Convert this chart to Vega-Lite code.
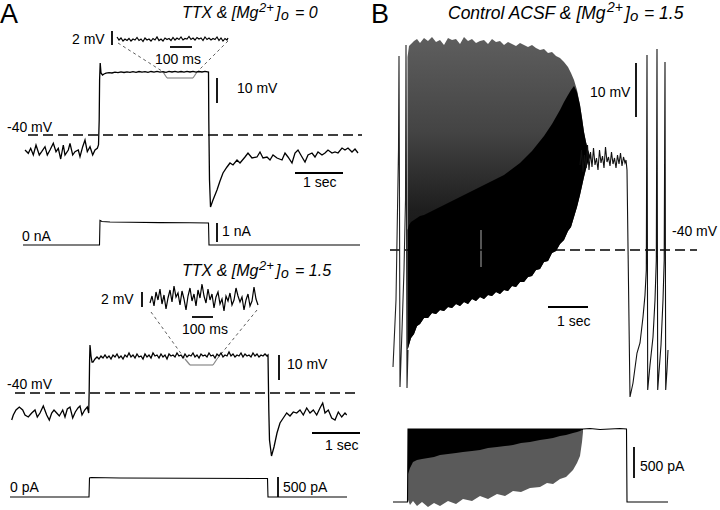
{
"$schema":"https://vega.github.io/schema/vega-lite/v6.json",
"width":720,"height":510,"padding":0,
"autosize":{"type":"fit","contains":"padding"},
"background":"white",
"config":{"view":{"stroke":null}},
"datasets":{
"a1v":[{"x":25,"y":150},{"x":28.3,"y":153.3},{"x":30.7,"y":148.3},{"x":33.3,"y":155},{"x":36,"y":145},{"x":39.3,"y":155},{"x":41.7,"y":151.7},{"x":45,"y":146.7},{"x":47.3,"y":155},{"x":50,"y":150},{"x":53.3,"y":143.3},{"x":56,"y":151.7},{"x":58.3,"y":148.3},{"x":60.7,"y":159},{"x":63.3,"y":145},{"x":65,"y":155},{"x":68.3,"y":150},{"x":70,"y":143.3},{"x":72.7,"y":155},{"x":75,"y":151.7},{"x":78.3,"y":150},{"x":80,"y":156.7},{"x":82.7,"y":146.7},{"x":85,"y":140},{"x":87.3,"y":151.7},{"x":90,"y":146.7},{"x":92.7,"y":155},{"x":95,"y":150},{"x":97.3,"y":148.3},{"x":98.5,"y":145},{"x":99.2,"y":120},{"x":99.6,"y":80},{"x":100.2,"y":63},{"x":101,"y":73},{"x":102.5,"y":75},{"x":104,"y":74},{"x":106,"y":73.2},{"x":109,"y":72.6},{"x":112,"y":73},{"x":115,"y":72.2},{"x":118,"y":72.7},{"x":121,"y":71.9},{"x":124,"y":72.5},{"x":127,"y":71.8},{"x":130,"y":72.4},{"x":133,"y":71.7},{"x":136,"y":72.3},{"x":139,"y":71.5},{"x":142,"y":72.2},{"x":145,"y":71.6},{"x":148,"y":72.4},{"x":151,"y":71.5},{"x":154,"y":72.1},{"x":157,"y":71.4},{"x":160,"y":72.2},{"x":163,"y":71.6},{"x":166,"y":72.3},{"x":169,"y":71.4},{"x":172,"y":72},{"x":175,"y":71.3},{"x":178,"y":72.1},{"x":181,"y":71.5},{"x":184,"y":72.2},{"x":187,"y":71.4},{"x":190,"y":72},{"x":193,"y":71.3},{"x":196,"y":72.1},{"x":199,"y":71.5},{"x":202,"y":72},{"x":205,"y":71.4},{"x":208.5,"y":72},{"x":208.8,"y":120},{"x":209.5,"y":180},{"x":210.5,"y":207},{"x":213,"y":200},{"x":217,"y":190},{"x":220,"y":181},{"x":223,"y":173},{"x":227,"y":167},{"x":230,"y":163},{"x":233,"y":165},{"x":237,"y":160},{"x":240,"y":163},{"x":245,"y":157},{"x":248,"y":153},{"x":252,"y":158},{"x":257,"y":157},{"x":260,"y":152},{"x":263,"y":158},{"x":267,"y":157},{"x":270,"y":160},{"x":273,"y":155},{"x":277,"y":158},{"x":282,"y":160},{"x":285,"y":153},{"x":288,"y":157},{"x":292,"y":163},{"x":295,"y":153},{"x":298,"y":150},{"x":302,"y":157},{"x":305,"y":162},{"x":308,"y":155},{"x":312,"y":153},{"x":315,"y":157},{"x":318,"y":152},{"x":322,"y":155},{"x":325,"y":153},{"x":328,"y":150},{"x":332,"y":153},{"x":335,"y":152},{"x":338,"y":153},{"x":342,"y":148},{"x":345,"y":150},{"x":348,"y":148},{"x":352,"y":152},{"x":355,"y":149},{"x":358,"y":153}],
"a1in":[{"x":117,"y":37},{"x":119,"y":40},{"x":121,"y":38},{"x":123,"y":41},{"x":125,"y":39},{"x":127,"y":40.5},{"x":129,"y":38.5},{"x":131,"y":41},{"x":133,"y":39},{"x":135,"y":40},{"x":137,"y":37.5},{"x":139,"y":40.5},{"x":141,"y":39},{"x":143,"y":41.5},{"x":145,"y":38},{"x":147,"y":40},{"x":149,"y":39},{"x":151,"y":41},{"x":153,"y":38.5},{"x":155,"y":40},{"x":157,"y":37},{"x":159,"y":40.5},{"x":161,"y":39},{"x":163,"y":41},{"x":165,"y":38},{"x":167,"y":39.5},{"x":169,"y":38.5},{"x":171,"y":40.5},{"x":173,"y":37.5},{"x":175,"y":40},{"x":177,"y":38},{"x":179,"y":39.5},{"x":181,"y":37},{"x":183,"y":40},{"x":185,"y":38.5},{"x":187,"y":39},{"x":189,"y":36.5},{"x":191,"y":39.5},{"x":193,"y":38},{"x":195,"y":40},{"x":197,"y":37.5},{"x":199,"y":39},{"x":201,"y":38},{"x":203,"y":40.5},{"x":205,"y":37},{"x":207,"y":39.5},{"x":209,"y":38},{"x":211,"y":40},{"x":213,"y":38.5},{"x":215,"y":39.5},{"x":217,"y":37},{"x":219,"y":40.5},{"x":221,"y":38},{"x":223,"y":41},{"x":225,"y":38.5},{"x":227,"y":40},{"x":228,"y":38}],
"a1i":[{"x":23,"y":245},{"x":99.5,"y":245},{"x":100,"y":220.5},{"x":102,"y":221.5},{"x":110,"y":222},{"x":130,"y":222.3},{"x":160,"y":222.6},{"x":190,"y":222.8},{"x":208.5,"y":223},{"x":209,"y":245},{"x":360,"y":245}],
"a2v":[{"x":11.7,"y":420},{"x":13.3,"y":415},{"x":16,"y":410},{"x":19.3,"y":407},{"x":22.7,"y":410},{"x":25,"y":415},{"x":28.3,"y":417},{"x":31.7,"y":413},{"x":35,"y":410},{"x":37.3,"y":417},{"x":40,"y":413},{"x":43.3,"y":406},{"x":46.7,"y":415},{"x":49.3,"y":420},{"x":51.7,"y":413},{"x":54,"y":410},{"x":56.7,"y":413},{"x":59.3,"y":416},{"x":62.7,"y":410},{"x":65,"y":417},{"x":67.3,"y":409},{"x":70,"y":407},{"x":72.7,"y":418},{"x":75.3,"y":412},{"x":78,"y":408},{"x":80,"y":406},{"x":82,"y":415},{"x":84.7,"y":410},{"x":87.3,"y":407},{"x":88.7,"y":413},{"x":89.2,"y":390},{"x":89.6,"y":360},{"x":90,"y":345},{"x":91,"y":356},{"x":92,"y":362},{"x":93,"y":362},{"x":95,"y":359},{"x":97,"y":357},{"x":99,"y":359},{"x":101,"y":356},{"x":103,"y":358},{"x":105,"y":355},{"x":107,"y":358},{"x":109,"y":356},{"x":111,"y":359},{"x":113,"y":355},{"x":115,"y":357},{"x":117,"y":354},{"x":119,"y":358},{"x":121,"y":356},{"x":123,"y":359},{"x":125,"y":355},{"x":127,"y":357},{"x":129,"y":353},{"x":131,"y":357},{"x":133,"y":355},{"x":135,"y":358},{"x":137,"y":354},{"x":139,"y":357},{"x":141,"y":356},{"x":143,"y":359},{"x":145,"y":354},{"x":147,"y":357},{"x":149,"y":355},{"x":151,"y":358},{"x":153,"y":353},{"x":155,"y":356},{"x":157,"y":355},{"x":159,"y":358},{"x":161,"y":354},{"x":163,"y":357},{"x":165,"y":355},{"x":167,"y":359},{"x":169,"y":354},{"x":171,"y":356},{"x":173,"y":355},{"x":175,"y":357},{"x":177,"y":353},{"x":179,"y":356},{"x":181,"y":355},{"x":183,"y":358},{"x":185,"y":354},{"x":187,"y":357},{"x":189,"y":355},{"x":191,"y":356},{"x":193,"y":353},{"x":195,"y":357},{"x":197,"y":355},{"x":199,"y":358},{"x":201,"y":354},{"x":203,"y":356},{"x":205,"y":355},{"x":207,"y":357},{"x":209,"y":353},{"x":211,"y":356},{"x":213,"y":355},{"x":215,"y":358},{"x":217,"y":354},{"x":219,"y":356},{"x":221,"y":353},{"x":223,"y":357},{"x":225,"y":355},{"x":227,"y":356},{"x":229,"y":352},{"x":231,"y":356},{"x":233,"y":354},{"x":235,"y":357},{"x":237,"y":355},{"x":239,"y":356},{"x":241,"y":353},{"x":243,"y":357},{"x":245,"y":354},{"x":247,"y":356},{"x":249,"y":355},{"x":251,"y":357},{"x":253,"y":353},{"x":255,"y":356},{"x":257,"y":354},{"x":259,"y":357},{"x":261,"y":355},{"x":263,"y":356},{"x":265,"y":354},{"x":267,"y":356},{"x":268,"y":355},{"x":268.8,"y":410},{"x":269.5,"y":440},{"x":271.5,"y":456},{"x":274,"y":447},{"x":277,"y":433},{"x":280,"y":423},{"x":283.3,"y":418},{"x":286.7,"y":413},{"x":290,"y":416},{"x":293.3,"y":412},{"x":296.7,"y":413},{"x":300,"y":410},{"x":303.3,"y":415},{"x":306.7,"y":408},{"x":310,"y":413},{"x":313.3,"y":410},{"x":316.7,"y":415},{"x":320,"y":408},{"x":322.7,"y":403},{"x":325,"y":413},{"x":328.3,"y":410},{"x":331.7,"y":418},{"x":335,"y":420},{"x":338.3,"y":412},{"x":341.7,"y":417},{"x":345,"y":413},{"x":346.7,"y":415}],
"a2in":[{"x":150,"y":303},{"x":152,"y":296},{"x":154,"y":306},{"x":156,"y":292},{"x":158,"y":300},{"x":160,"y":289},{"x":162,"y":304},{"x":164,"y":295},{"x":166,"y":309},{"x":168,"y":298},{"x":170,"y":290},{"x":172,"y":302},{"x":174,"y":286},{"x":176,"y":297},{"x":178,"y":293},{"x":180,"y":305},{"x":182,"y":291},{"x":184,"y":299},{"x":186,"y":310},{"x":188,"y":296},{"x":190,"y":288},{"x":192,"y":301},{"x":194,"y":294},{"x":196,"y":306},{"x":198,"y":290},{"x":200,"y":298},{"x":202,"y":284},{"x":204,"y":296},{"x":206,"y":303},{"x":208,"y":289},{"x":210,"y":300},{"x":212,"y":294},{"x":214,"y":308},{"x":216,"y":297},{"x":218,"y":292},{"x":220,"y":304},{"x":222,"y":299},{"x":224,"y":311},{"x":226,"y":296},{"x":228,"y":301},{"x":230,"y":293},{"x":232,"y":305},{"x":234,"y":300},{"x":236,"y":288},{"x":238,"y":296},{"x":240,"y":302},{"x":242,"y":297},{"x":244,"y":310},{"x":246,"y":300},{"x":248,"y":294},{"x":250,"y":306},{"x":252,"y":301},{"x":254,"y":287},{"x":256,"y":299},{"x":258,"y":305}],
"a2i":[{"x":10,"y":497},{"x":89,"y":497},{"x":89.5,"y":478},{"x":91,"y":477.5},{"x":120,"y":478},{"x":267.5,"y":478.5},{"x":268,"y":497},{"x":347,"y":497}],
"bv":[{"x":393,"y":367},{"x":396,"y":300},{"x":398.5,"y":150},{"x":399,"y":56},{"x":399.5,"y":200},{"x":400,"y":387},{"x":402,"y":330},{"x":404,"y":270},{"x":405.5,"y":200},{"x":406,"y":45},{"x":406.5,"y":200},{"x":407,"y":388},{"x":408,"y":350}],
"bp":[{"x":580,"y":165},{"x":581.5,"y":150},{"x":583,"y":172},{"x":584.5,"y":155},{"x":586,"y":168},{"x":587.5,"y":145},{"x":589,"y":170},{"x":590.5,"y":152},{"x":592,"y":167},{"x":593.5,"y":148},{"x":595,"y":165},{"x":596.5,"y":158},{"x":598,"y":170},{"x":599.5,"y":150},{"x":601,"y":163},{"x":602.5,"y":156},{"x":604,"y":168},{"x":605.5,"y":147},{"x":607,"y":162},{"x":608.5,"y":157},{"x":610,"y":166},{"x":611.5,"y":152},{"x":613,"y":164},{"x":614.5,"y":158},{"x":616,"y":168},{"x":617.5,"y":155},{"x":619,"y":164},{"x":620.5,"y":153},{"x":622,"y":166},{"x":623.5,"y":157},{"x":625,"y":163},{"x":626,"y":160},{"x":626.5,"y":165},{"x":627,"y":170},{"x":630,"y":397},{"x":633,"y":383},{"x":637,"y":353},{"x":640,"y":343},{"x":643,"y":317},{"x":645,"y":295},{"x":646.3,"y":270},{"x":647,"y":55},{"x":647.7,"y":390},{"x":650,"y":365},{"x":653,"y":337},{"x":655,"y":300},{"x":656.3,"y":260},{"x":657,"y":49},{"x":657.7,"y":390},{"x":659,"y":372},{"x":661,"y":345},{"x":663,"y":300},{"x":664.2,"y":260},{"x":665,"y":62},{"x":665.7,"y":390},{"x":667,"y":370},{"x":668,"y":350}],
"bdense":[{"x":407.5,"top":57,"bot":350,"blk":230},{"x":409,"top":46,"bot":345,"blk":225},{"x":411,"top":44,"bot":338,"blk":222},{"x":414,"top":41,"bot":334,"blk":220},{"x":417,"top":39,"bot":326,"blk":218},{"x":420,"top":43,"bot":324,"blk":216},{"x":424,"top":38,"bot":318,"blk":215},{"x":428,"top":41,"bot":318,"blk":213},{"x":432,"top":37,"bot":313,"blk":211},{"x":436,"top":42,"bot":314,"blk":209},{"x":440,"top":40,"bot":310,"blk":207},{"x":444,"top":45,"bot":311,"blk":205},{"x":448,"top":38,"bot":307,"blk":203},{"x":452,"top":40,"bot":308,"blk":201},{"x":456,"top":39,"bot":304,"blk":199},{"x":460,"top":44,"bot":306,"blk":197},{"x":464,"top":37,"bot":302,"blk":195},{"x":468,"top":41,"bot":304,"blk":193},{"x":472,"top":39,"bot":299,"blk":191},{"x":476,"top":43,"bot":301,"blk":189},{"x":480,"top":41,"bot":297,"blk":187},{"x":484,"top":40,"bot":299,"blk":185},{"x":488,"top":44,"bot":295,"blk":183},{"x":492,"top":39,"bot":296,"blk":181},{"x":496,"top":42,"bot":292,"blk":179},{"x":500,"top":41,"bot":294,"blk":177},{"x":504,"top":45,"bot":290,"blk":175},{"x":508,"top":42,"bot":291,"blk":172},{"x":512,"top":44,"bot":286,"blk":169},{"x":516,"top":46,"bot":287,"blk":166},{"x":520,"top":43,"bot":282,"blk":163},{"x":524,"top":45,"bot":282,"blk":159},{"x":528,"top":47,"bot":277,"blk":155},{"x":532,"top":45,"bot":276,"blk":151},{"x":536,"top":48,"bot":270,"blk":146},{"x":540,"top":50,"bot":269,"blk":141},{"x":544,"top":49,"bot":262,"blk":136},{"x":548,"top":53,"bot":261,"blk":130},{"x":552,"top":52,"bot":253,"blk":124},{"x":556,"top":56,"bot":251,"blk":117},{"x":560,"top":58,"bot":244,"blk":110},{"x":564,"top":62,"bot":240,"blk":102},{"x":568,"top":67,"bot":231,"blk":95},{"x":571,"top":73,"bot":227,"blk":90},{"x":574,"top":80,"bot":217,"blk":86},{"x":577,"top":90,"bot":207,"blk":92},{"x":580,"top":105,"bot":195,"blk":105},{"x":582,"top":118,"bot":186,"blk":118},{"x":584,"top":132,"bot":177,"blk":132},{"x":586,"top":142,"bot":169,"blk":142},{"x":588,"top":150,"bot":162,"blk":150},{"x":590,"top":156,"bot":157,"blk":156}],
"bi":[{"x":393,"y":502},{"x":407.5,"y":502},{"x":408,"y":429},{"x":583,"y":429},{"x":590,"y":428.5},{"x":600,"y":429.5},{"x":610,"y":429},{"x":620,"y":428.5},{"x":626.5,"y":429},{"x":627,"y":502},{"x":668,"y":502}],
"bidense":[{"x":408,"top":429,"bot":500,"blk":474},{"x":410,"top":429,"bot":505,"blk":468},{"x":413,"top":429,"bot":501,"blk":462},{"x":417,"top":429,"bot":506,"blk":460},{"x":422,"top":429,"bot":502,"blk":459},{"x":428,"top":429,"bot":507,"blk":458},{"x":434,"top":429,"bot":503,"blk":457},{"x":440,"top":429,"bot":506,"blk":455},{"x":448,"top":429,"bot":501,"blk":454},{"x":456,"top":429,"bot":504,"blk":453},{"x":463,"top":429,"bot":499,"blk":452},{"x":472,"top":429,"bot":501,"blk":451},{"x":480,"top":429,"bot":496,"blk":450},{"x":488,"top":429,"bot":499,"blk":448},{"x":497,"top":429,"bot":494,"blk":447},{"x":505,"top":429,"bot":496,"blk":446},{"x":513,"top":429,"bot":491,"blk":445},{"x":521,"top":429,"bot":492,"blk":443},{"x":530,"top":429,"bot":488,"blk":442},{"x":540,"top":429,"bot":487,"blk":440},{"x":547,"top":429,"bot":483,"blk":439},{"x":553,"top":429,"bot":484,"blk":438},{"x":560,"top":429,"bot":479,"blk":436},{"x":566,"top":429,"bot":477,"blk":435},{"x":573,"top":429,"bot":470,"blk":433},{"x":577,"top":429,"bot":463,"blk":432},{"x":580,"top":429,"bot":456,"blk":431},{"x":582,"top":429,"bot":442,"blk":430},{"x":583,"top":429,"bot":432,"blk":430}],
"segs":[
{"k":"bar","x":112,"y":31,"x2":112,"y2":45},{"k":"bar","x":170,"y":47,"x2":192,"y2":47},{"k":"bar","x":217,"y":78,"x2":217,"y2":103},{"k":"bar","x":295,"y":173,"x2":343,"y2":173},{"k":"bar","x":217,"y":223,"x2":217,"y2":242},
{"k":"bar","x":142,"y":292,"x2":142,"y2":307},{"k":"bar","x":192,"y":317,"x2":213,"y2":317},{"k":"bar","x":279,"y":355,"x2":279,"y2":380},{"k":"bar","x":312,"y":433,"x2":360,"y2":433},{"k":"bar","x":278,"y":477,"x2":278,"y2":497},
{"k":"bar","x":636,"y":63,"x2":636,"y2":117},{"k":"bar","x":548,"y":307,"x2":588,"y2":307},{"k":"bar","x":634,"y":447,"x2":634,"y2":478},
{"k":"d40","x":28,"y":135,"x2":362,"y2":135},{"k":"d40","x":15,"y":393,"x2":360,"y2":393},{"k":"d40","x":390,"y":250,"x2":697,"y2":250},
{"k":"conn","x":118,"y":43,"x2":165,"y2":73},{"k":"conn","x":228,"y":41,"x2":196,"y2":73},{"k":"conn","x":151,"y":312,"x2":185,"y2":359},{"k":"conn","x":257,"y":310,"x2":217,"y2":359},
{"k":"trap","x":163,"y":72,"x2":167,"y2":78},{"k":"trap","x":167,"y":78,"x2":193,"y2":78},{"k":"trap","x":193,"y":78,"x2":197,"y2":72},
{"k":"trap","x":185,"y":359,"x2":190,"y2":365},{"k":"trap","x":190,"y":365,"x2":213,"y2":365},{"k":"trap","x":213,"y":365,"x2":217,"y2":359},
{"k":"gray","x":481,"y":230,"x2":481,"y2":267}
],
"labels":[
{"x":72,"y":40,"t":"2 mV"},{"x":155,"y":60,"t":"100 ms"},{"x":237,"y":89,"t":"10 mV"},{"x":7,"y":128,"t":"-40 mV"},{"x":303,"y":183,"t":"1 sec"},{"x":22,"y":237,"t":"0 nA"},{"x":222,"y":232,"t":"1 nA"},
{"x":101,"y":300,"t":"2 mV"},{"x":182,"y":330,"t":"100 ms"},{"x":287,"y":365,"t":"10 mV"},{"x":7,"y":385,"t":"-40 mV"},{"x":325,"y":446,"t":"1 sec"},{"x":10,"y":488,"t":"0 pA"},{"x":283,"y":488,"t":"500 pA"},
{"x":590,"y":93,"t":"10 mV"},{"x":672,"y":232,"t":"-40 mV"},{"x":557,"y":322,"t":"1 sec"},{"x":640,"y":467,"t":"500 pA"}
],
"tmain":[{"x":182,"y":18,"t":"TTX & [Mg"},{"x":276,"y":18,"t":"]"},{"x":295,"y":18,"t":"= 0"},{"x":182,"y":276,"t":"TTX & [Mg"},{"x":276,"y":276,"t":"]"},{"x":295,"y":276,"t":"= 1.5"}],
"tsup":[{"x":259,"y":12,"t":"2+"},{"x":259,"y":270,"t":"2+"}],
"tsub":[{"x":281,"y":20,"t":"o"},{"x":281,"y":278,"t":"o"}],
"bmain":[{"x":448,"y":19,"t":"Control ACSF & [Mg"},{"x":625,"y":19,"t":"]"},{"x":644,"y":19,"t":"= 1.5"}],
"bsup":[{"x":607,"y":12,"t":"2+"}],
"bsub":[{"x":630,"y":21,"t":"o"}],
"letters":[{"x":0,"y":2,"t":"A"},{"x":371,"y":2,"t":"B"}]
},
"encoding":{
"x":{"field":"x","type":"quantitative","scale":{"domain":[0,720],"nice":false,"zero":false},"axis":null},
"y":{"field":"y","type":"quantitative","scale":{"domain":[0,510],"nice":false,"zero":false,"reverse":true},"axis":null}
},
"layer":[
{"data":{"name":"bdense"},"mark":{"type":"area","color":{"gradient":"linear","x1":0,"y1":0,"x2":0,"y2":1,"stops":[{"offset":0,"color":"#5e5e5e"},{"offset":0.3,"color":"#444444"},{"offset":0.55,"color":"#1e1e1e"},{"offset":1,"color":"#0a0a0a"}]}},"encoding":{"y":{"field":"top","type":"quantitative"},"y2":{"field":"bot"}}},
{"data":{"name":"bdense"},"mark":{"type":"area","color":"#000000"},"encoding":{"y":{"field":"blk","type":"quantitative"},"y2":{"field":"bot"}}},
{"data":{"name":"bidense"},"mark":{"type":"area","color":"#5a5a5a"},"encoding":{"y":{"field":"top","type":"quantitative"},"y2":{"field":"bot"}}},
{"data":{"name":"bidense"},"mark":{"type":"area","color":"#000000"},"encoding":{"y":{"field":"top","type":"quantitative"},"y2":{"field":"blk"}}},
{"data":{"name":"segs"},"transform":[{"filter":"datum.k=='gray'"}],"mark":{"type":"rule","color":"#aaaaaa","strokeWidth":1},"encoding":{"x2":{"field":"x2"},"y2":{"field":"y2"}}},
{"data":{"name":"segs"},"transform":[{"filter":"datum.k=='d40'"}],"mark":{"type":"rule","color":"#000000","strokeWidth":1.5,"strokeDash":[10,5]},"encoding":{"x2":{"field":"x2"},"y2":{"field":"y2"}}},
{"data":{"name":"segs"},"transform":[{"filter":"datum.k=='conn'"}],"mark":{"type":"rule","color":"#333333","strokeWidth":0.8,"strokeDash":[3,3]},"encoding":{"x2":{"field":"x2"},"y2":{"field":"y2"}}},
{"data":{"name":"segs"},"transform":[{"filter":"datum.k=='trap'"}],"mark":{"type":"rule","color":"#888888","strokeWidth":1.2},"encoding":{"x2":{"field":"x2"},"y2":{"field":"y2"}}},
{"data":{"name":"segs"},"transform":[{"filter":"datum.k=='bar'"}],"mark":{"type":"rule","color":"#000000","strokeWidth":1.8},"encoding":{"x2":{"field":"x2"},"y2":{"field":"y2"}}},
{"data":{"name":"a1v"},"mark":{"type":"line","color":"#000000","strokeWidth":1.3},"encoding":{"order":{"value":null}}},
{"data":{"name":"a1in"},"mark":{"type":"line","color":"#000000","strokeWidth":1.2},"encoding":{"order":{"value":null}}},
{"data":{"name":"a1i"},"mark":{"type":"line","color":"#000000","strokeWidth":1.1},"encoding":{"order":{"value":null}}},
{"data":{"name":"a2v"},"mark":{"type":"line","color":"#000000","strokeWidth":1.3},"encoding":{"order":{"value":null}}},
{"data":{"name":"a2in"},"mark":{"type":"line","color":"#000000","strokeWidth":1.2},"encoding":{"order":{"value":null}}},
{"data":{"name":"a2i"},"mark":{"type":"line","color":"#000000","strokeWidth":1.1},"encoding":{"order":{"value":null}}},
{"data":{"name":"bv"},"mark":{"type":"line","color":"#222222","strokeWidth":1.1},"encoding":{"order":{"value":null}}},
{"data":{"name":"bp"},"mark":{"type":"line","color":"#111111","strokeWidth":1.1},"encoding":{"order":{"value":null}}},
{"data":{"name":"bi"},"mark":{"type":"line","color":"#000000","strokeWidth":1.1},"encoding":{"order":{"value":null}}},
{"data":{"name":"labels"},"mark":{"type":"text","align":"left","baseline":"middle","font":"Liberation Sans","fontSize":14,"color":"#000000"},"encoding":{"text":{"field":"t"}}},
{"data":{"name":"tmain"},"mark":{"type":"text","align":"left","baseline":"alphabetic","font":"Liberation Sans","fontStyle":"italic","fontSize":16,"color":"#000000"},"encoding":{"text":{"field":"t"}}},
{"data":{"name":"tsup"},"mark":{"type":"text","align":"left","baseline":"alphabetic","font":"Liberation Sans","fontStyle":"italic","fontSize":13,"color":"#000000"},"encoding":{"text":{"field":"t"}}},
{"data":{"name":"tsub"},"mark":{"type":"text","align":"left","baseline":"alphabetic","font":"Liberation Sans","fontStyle":"italic","fontSize":14,"color":"#000000"},"encoding":{"text":{"field":"t"}}},
{"data":{"name":"bmain"},"mark":{"type":"text","align":"left","baseline":"alphabetic","font":"Liberation Sans","fontStyle":"italic","fontSize":17.5,"color":"#000000"},"encoding":{"text":{"field":"t"}}},
{"data":{"name":"bsup"},"mark":{"type":"text","align":"left","baseline":"alphabetic","font":"Liberation Sans","fontStyle":"italic","fontSize":14,"color":"#000000"},"encoding":{"text":{"field":"t"}}},
{"data":{"name":"bsub"},"mark":{"type":"text","align":"left","baseline":"alphabetic","font":"Liberation Sans","fontStyle":"italic","fontSize":15,"color":"#000000"},"encoding":{"text":{"field":"t"}}},
{"data":{"name":"letters"},"mark":{"type":"text","align":"left","baseline":"top","font":"Liberation Sans","fontSize":27,"color":"#000000"},"encoding":{"text":{"field":"t"}}}
]
}
